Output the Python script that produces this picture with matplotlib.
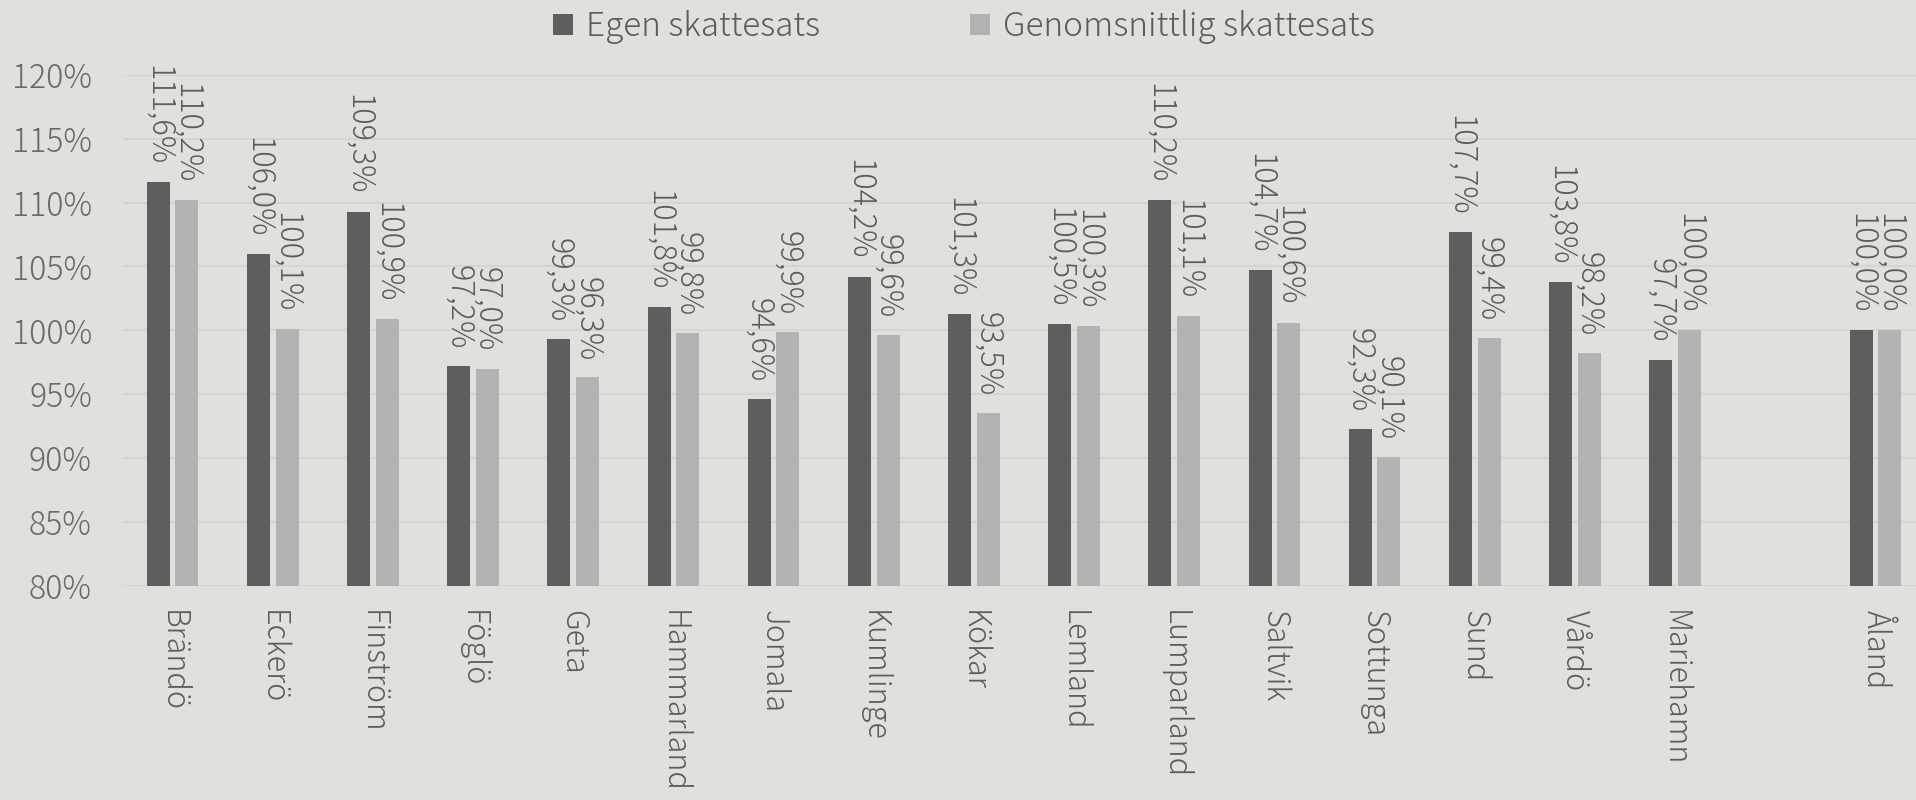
import numpy as np
import matplotlib
matplotlib.use("Agg")
import matplotlib.pyplot as plt
from matplotlib.ticker import FuncFormatter

# kommuner (tom plats före Åland)
kommuner = ["Brändö", "Eckerö", "Finström", "Föglö", "Geta", "Hammarland", "Jomala",
            "Kumlinge", "Kökar", "Lemland", "Lumparland", "Saltvik", "Sottunga", "Sund",
            "Vårdö", "Mariehamn", "", "Åland"]
egen = [111.6, 106.0, 109.3, 97.2, 99.3, 101.8, 94.6, 104.2, 101.3, 100.5,
        110.2, 104.7, 92.3, 107.7, 103.8, 97.7, np.nan, 100.0]
snitt = [110.2, 100.1, 100.9, 97.0, 96.3, 99.8, 99.9, 99.6, 93.5, 100.3,
         101.1, 100.6, 90.1, 99.4, 98.2, 100.0, np.nan, 100.0]
y_ticks = [80, 85, 90, 95, 100, 105, 110, 115, 120]

bg = "#e0e1dc"
dark = "#5e5e5e"
light = "#b3b3b3"
txt = "#5c5c5c"

plt.rcParams["font.family"] = ["Noto Sans CJK JP", "DejaVu Sans"]
plt.rcParams["font.weight"] = "light"

fig = plt.figure(figsize=(19.16, 8), dpi=100, facecolor=bg)
ax = fig.add_axes([122.5 / 1916, 1 - 585.5 / 800, 1803 / 1916, 510.5 / 800])
ax.set_facecolor(bg)

x = np.arange(len(kommuner))
w = 0.23
b1 = ax.bar(x - 0.1425, np.array(egen) - 80, w, bottom=80, color=dark, label="Egen skattesats", zorder=3)
b2 = ax.bar(x + 0.1425, np.array(snitt) - 80, w, bottom=80, color=light, label="Genomsnittlig skattesats", zorder=3)

# värdeetiketter
for serie, off in [(egen, -0.1425), (snitt, 0.1425)]:
    for xi, v in zip(x, serie):
        if np.isnan(v):
            continue
        ax.annotate(f"{v:.1f}%".replace(".", ","), (xi + off, v), xytext=(0, 12),
                    textcoords="offset points", rotation=270, ha="center", va="bottom",
                    fontsize=22, color=txt, fontweight="light", annotation_clip=False)

ax.set_xlim(-0.5, len(kommuner) - 0.5)
ax.set_ylim(80, 120)
ax.set_yticks(y_ticks)
ax.yaxis.set_major_formatter(FuncFormatter(lambda v, p: f"{v:.0f}%"))
ax.set_xticks(x)
ax.set_xticklabels(kommuner, rotation=270, fontsize=22, color=txt, fontweight="light")
ax.tick_params(axis="y", labelsize=23, labelcolor="#6a6a6a", length=0, pad=22)
ax.tick_params(axis="x", length=0, pad=18)
ax.grid(axis="y", color="#d5d5d1", linewidth=1.5, zorder=0)
for s in ax.spines.values():
    s.set_visible(False)

fig.legend(handles=[b1, b2], loc="upper center", bbox_to_anchor=(0.503, 1.025), ncol=2,
           frameon=False, fontsize=24, labelcolor=txt, handlelength=0.6, handleheight=0.6,
           handletextpad=0.4, columnspacing=4.5)

fig.savefig("out.png", dpi=100, facecolor=bg)
